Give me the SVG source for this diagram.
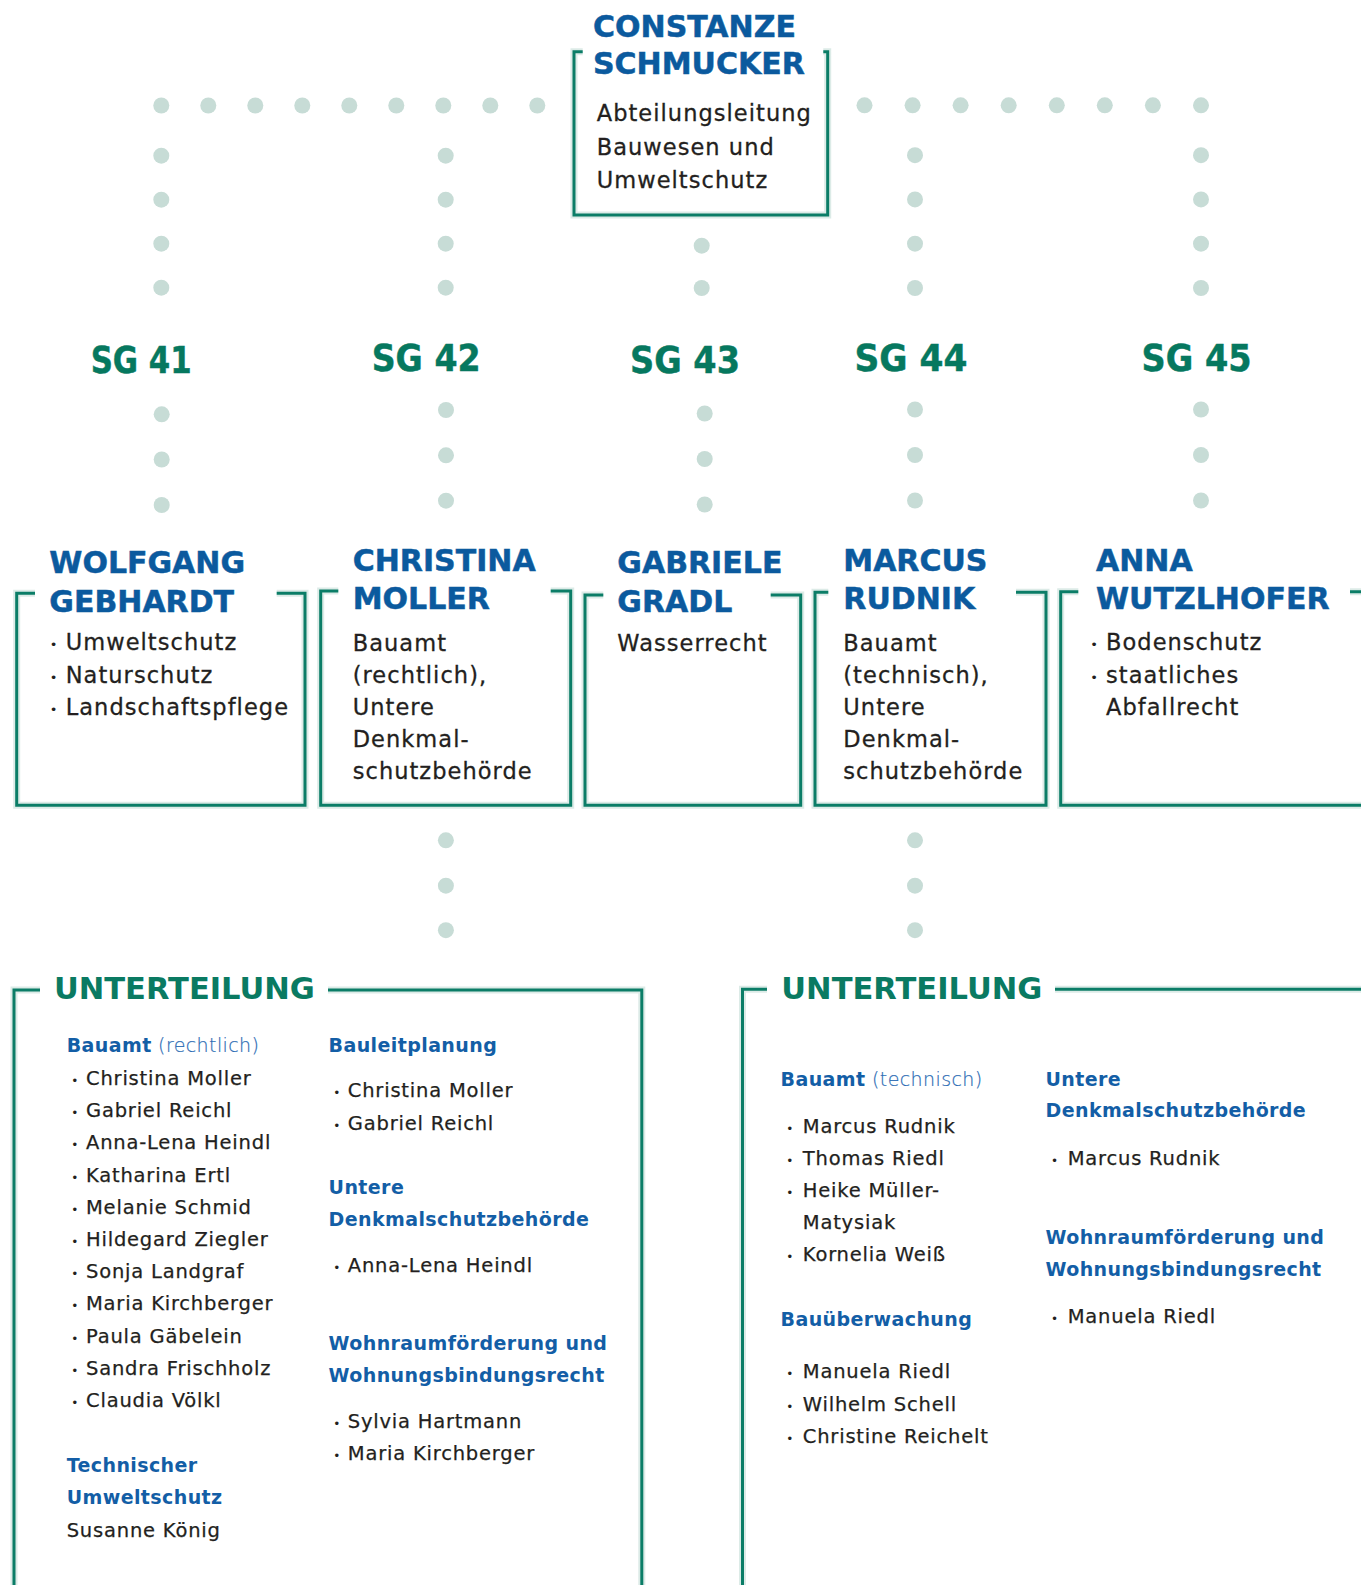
<svg xmlns="http://www.w3.org/2000/svg" width="1361" height="1585" viewBox="0 0 1361 1585">
<style>
.bg{fill:#ffffff}
.frame{fill:none;stroke:#0b7d67;stroke-width:3;stroke-linejoin:miter}
.halo{fill:none;stroke:#a8cdc2;stroke-width:7;opacity:0.4}
.dot{fill:#c7dcd6}
.name{font-family:"DejaVu Sans",sans-serif;font-weight:bold;font-size:30px;fill:#0b5a9e;stroke:#0b5a9e;stroke-width:0.5}
.sg{font-family:"DejaVu Sans",sans-serif;font-weight:bold;font-size:37px;fill:#06785f;stroke:#06785f;stroke-width:0.5}
.body{font-family:"DejaVu Sans",sans-serif;font-size:22.5px;letter-spacing:1.05px;fill:#231f20;stroke:#231f20;stroke-width:0.3}
.sub{font-family:"DejaVu Sans",sans-serif;font-size:19.5px;letter-spacing:0.8px;fill:#231f20;stroke:#231f20;stroke-width:0.25}
.h{font-family:"DejaVu Sans",sans-serif;font-weight:bold;font-size:19px;letter-spacing:0.4px;fill:#135ea6}
.lt{font-weight:200;fill:#2c6cb4;stroke:#2c6cb4;stroke-width:0.2}
.ut{font-family:"DejaVu Sans",sans-serif;font-weight:bold;font-size:30px;fill:#0a7a62}
.bul{font-family:"DejaVu Sans",sans-serif;font-size:13px;fill:#231f20;text-anchor:middle}
.buls{font-family:"DejaVu Sans",sans-serif;font-size:12px;fill:#231f20;text-anchor:middle}
</style>
<rect class="bg" x="0" y="0" width="1361" height="1585"/>

<g id="connectors">
  <g id="dots-top-left">
    <circle class="dot" cx="161.3" cy="105.5" r="8"/><circle class="dot" cx="208.3" cy="105.5" r="8"/><circle class="dot" cx="255.3" cy="105.5" r="8"/><circle class="dot" cx="302.3" cy="105.5" r="8"/><circle class="dot" cx="349.3" cy="105.5" r="8"/><circle class="dot" cx="396.3" cy="105.5" r="8"/><circle class="dot" cx="443.3" cy="105.5" r="8"/><circle class="dot" cx="490.3" cy="105.5" r="8"/><circle class="dot" cx="537.3" cy="105.5" r="8"/>
    <circle class="dot" cx="161.3" cy="155.7" r="8"/><circle class="dot" cx="161.3" cy="199.7" r="8"/><circle class="dot" cx="161.3" cy="243.7" r="8"/><circle class="dot" cx="161.3" cy="287.7" r="8"/>
    <circle class="dot" cx="445.7" cy="155.7" r="8"/><circle class="dot" cx="445.7" cy="199.7" r="8"/><circle class="dot" cx="445.7" cy="243.7" r="8"/><circle class="dot" cx="445.7" cy="287.7" r="8"/>
  </g>
  <g id="dots-top-right">
    <circle class="dot" cx="864.5" cy="105.3" r="8"/><circle class="dot" cx="912.6" cy="105.3" r="8"/><circle class="dot" cx="960.6" cy="105.3" r="8"/><circle class="dot" cx="1008.7" cy="105.3" r="8"/><circle class="dot" cx="1056.8" cy="105.3" r="8"/><circle class="dot" cx="1104.8" cy="105.3" r="8"/><circle class="dot" cx="1152.9" cy="105.3" r="8"/><circle class="dot" cx="1201" cy="105.3" r="8"/>
    <circle class="dot" cx="915" cy="155.2" r="8"/><circle class="dot" cx="915" cy="199.4" r="8"/><circle class="dot" cx="915" cy="243.7" r="8"/><circle class="dot" cx="915" cy="288" r="8"/>
    <circle class="dot" cx="1201" cy="155.2" r="8"/><circle class="dot" cx="1201" cy="199.4" r="8"/><circle class="dot" cx="1201" cy="243.7" r="8"/><circle class="dot" cx="1201" cy="288" r="8"/>
  </g>
  <g id="dots-center">
    <circle class="dot" cx="701.7" cy="245.7" r="8"/><circle class="dot" cx="701.7" cy="288" r="8"/>
  </g>
  <g id="dots-sg">
    <circle class="dot" cx="161.7" cy="414.3" r="8"/><circle class="dot" cx="161.7" cy="459.5" r="8"/><circle class="dot" cx="161.7" cy="505" r="8"/>
    <circle class="dot" cx="446" cy="410" r="8"/><circle class="dot" cx="446" cy="455.3" r="8"/><circle class="dot" cx="446" cy="500.7" r="8"/>
    <circle class="dot" cx="704.7" cy="413.5" r="8"/><circle class="dot" cx="704.7" cy="459" r="8"/><circle class="dot" cx="704.7" cy="504.5" r="8"/>
    <circle class="dot" cx="915" cy="409.5" r="8"/><circle class="dot" cx="915" cy="455" r="8"/><circle class="dot" cx="915" cy="500.5" r="8"/>
    <circle class="dot" cx="1201" cy="409.5" r="8"/><circle class="dot" cx="1201" cy="455" r="8"/><circle class="dot" cx="1201" cy="500.5" r="8"/>
  </g>
  <g id="dots-bottom">
    <circle class="dot" cx="445.9" cy="840.3" r="8"/><circle class="dot" cx="445.9" cy="885.7" r="8"/><circle class="dot" cx="445.9" cy="930.2" r="8"/>
    <circle class="dot" cx="915" cy="840.3" r="8"/><circle class="dot" cx="915" cy="885.7" r="8"/><circle class="dot" cx="915" cy="930.2" r="8"/>
  </g>
</g>

<g id="node-schmucker">
  <path class="halo" d="M582.7,51.7 H574 V215 H827.7 V51.7 H823.3"/>
  <path class="frame" d="M582.7,51.7 H574 V215 H827.7 V51.7 H823.3"/>
  <text class="name" x="593" y="37.3">CONSTANZE</text>
  <text class="name" x="593" y="74">SCHMUCKER</text>
  <text class="body" x="596.7" y="121">Abteilungsleitung</text>
  <text class="body" x="596.7" y="154.5">Bauwesen und</text>
  <text class="body" x="596.7" y="188">Umweltschutz</text>
</g>

<g id="sg-labels">
  <text id="sg41" class="sg" x="90.7" y="372.7" textLength="101" lengthAdjust="spacingAndGlyphs">SG 41</text>
  <text id="sg42" class="sg" x="371.7" y="370.7" textLength="109" lengthAdjust="spacingAndGlyphs">SG 42</text>
  <text id="sg43" class="sg" x="630" y="372.7" textLength="110" lengthAdjust="spacingAndGlyphs">SG 43</text>
  <text id="sg44" class="sg" x="854.4" y="370.7" textLength="113" lengthAdjust="spacingAndGlyphs">SG 44</text>
  <text id="sg45" class="sg" x="1141.6" y="370.7" textLength="110" lengthAdjust="spacingAndGlyphs">SG 45</text>
</g>

<g id="node-gebhardt">
  <path class="halo" d="M35,593.3 H16.7 V805.3 H305 V593.3 H276.7"/>
  <path class="frame" d="M35,593.3 H16.7 V805.3 H305 V593.3 H276.7"/>
  <text class="name" x="49.3" y="572.7">WOLFGANG</text>
  <text class="name" x="49.3" y="612">GEBHARDT</text>
  <text class="bul" x="53.5" y="649">•</text><text class="body" x="65.7" y="650">Umweltschutz</text>
  <text class="bul" x="53.5" y="681.5">•</text><text class="body" x="65.7" y="682.5">Naturschutz</text>
  <text class="bul" x="53.5" y="713.5">•</text><text class="body" x="65.7" y="714.5">Landschaftspflege</text>
</g>

<g id="node-moller">
  <path class="halo" d="M338.3,591 H320.7 V805.3 H570.7 V591 H550.7"/>
  <path class="frame" d="M338.3,591 H320.7 V805.3 H570.7 V591 H550.7"/>
  <text class="name" x="352.7" y="570.7">CHRISTINA</text>
  <text class="name" x="352.7" y="609.3">MOLLER</text>
  <text class="body" x="352.7" y="650.7">Bauamt</text>
  <text class="body" x="352.7" y="682.7">(rechtlich),</text>
  <text class="body" x="352.7" y="714.7">Untere</text>
  <text class="body" x="352.7" y="746.7">Denkmal-</text>
  <text class="body" x="352.7" y="778.7">schutzbehörde</text>
</g>

<g id="node-gradl">
  <path class="halo" d="M603.3,595 H585 V805.3 H800.7 V595 H770.7"/>
  <path class="frame" d="M603.3,595 H585 V805.3 H800.7 V595 H770.7"/>
  <text class="name" x="617.3" y="573.3">GABRIELE</text>
  <text class="name" x="617.3" y="611.7">GRADL</text>
  <text class="body" x="617.3" y="650.7">Wasserrecht</text>
</g>

<g id="node-rudnik">
  <path class="halo" d="M828.3,592.3 H815 V805.3 H1046 V592.3 H1016"/>
  <path class="frame" d="M828.3,592.3 H815 V805.3 H1046 V592.3 H1016"/>
  <text class="name" x="843.3" y="570.7">MARCUS</text>
  <text class="name" x="843.3" y="609.3">RUDNIK</text>
  <text class="body" x="843.3" y="650.7">Bauamt</text>
  <text class="body" x="843.3" y="682.7">(technisch),</text>
  <text class="body" x="843.3" y="714.7">Untere</text>
  <text class="body" x="843.3" y="746.7">Denkmal-</text>
  <text class="body" x="843.3" y="778.7">schutzbehörde</text>
</g>

<g id="node-wutzlhofer">
  <path class="halo" d="M1078.3,591.7 H1060.7 V805.3 H1366 M1350,591.7 H1366"/>
  <path class="frame" d="M1078.3,591.7 H1060.7 V805.3 H1366 M1350,591.7 H1366"/>
  <text class="name" x="1096" y="570.7">ANNA</text>
  <text class="name" x="1096" y="609.3">WUTZLHOFER</text>
  <text class="bul" x="1094" y="649">•</text><text class="body" x="1106" y="650">Bodenschutz</text>
  <text class="bul" x="1094" y="681.5">•</text><text class="body" x="1106" y="682.5">staatliches</text>
  <text class="body" x="1106" y="714.5">Abfallrecht</text>
</g>

<g id="node-unterteilung-sg42">
  <path class="halo" d="M40,990 H14 V1590 M328,990 H641.8 V1590"/>
  <path class="frame" d="M40,990 H14 V1590 M328,990 H641.8 V1590"/>
  <text class="ut" x="53.9" y="999.3" textLength="261" lengthAdjust="spacingAndGlyphs">UNTERTEILUNG</text>

  <text class="h" x="66.7" y="1051.7">Bauamt<tspan class="lt"> (rechtlich)</tspan></text>
  <text class="buls" x="74.8" y="1085">•</text><text class="sub" x="86" y="1085">Christina Moller</text>
  <text class="buls" x="74.8" y="1117.2">•</text><text class="sub" x="86" y="1117.2">Gabriel Reichl</text>
  <text class="buls" x="74.8" y="1149.4">•</text><text class="sub" x="86" y="1149.4">Anna-Lena Heindl</text>
  <text class="buls" x="74.8" y="1181.6">•</text><text class="sub" x="86" y="1181.6">Katharina Ertl</text>
  <text class="buls" x="74.8" y="1213.8">•</text><text class="sub" x="86" y="1213.8">Melanie Schmid</text>
  <text class="buls" x="74.8" y="1246">•</text><text class="sub" x="86" y="1246">Hildegard Ziegler</text>
  <text class="buls" x="74.8" y="1278.2">•</text><text class="sub" x="86" y="1278.2">Sonja Landgraf</text>
  <text class="buls" x="74.8" y="1310.4">•</text><text class="sub" x="86" y="1310.4">Maria Kirchberger</text>
  <text class="buls" x="74.8" y="1342.6">•</text><text class="sub" x="86" y="1342.6">Paula Gäbelein</text>
  <text class="buls" x="74.8" y="1374.8">•</text><text class="sub" x="86" y="1374.8">Sandra Frischholz</text>
  <text class="buls" x="74.8" y="1407">•</text><text class="sub" x="86" y="1407">Claudia Völkl</text>
  <text class="h" x="66.7" y="1471.7">Technischer</text>
  <text class="h" x="66.7" y="1504">Umweltschutz</text>
  <text class="sub" x="66.7" y="1536.7">Susanne König</text>

  <text class="h" x="328.6" y="1051.7">Bauleitplanung</text>
  <text class="buls" x="336.7" y="1097">•</text><text class="sub" x="347.8" y="1097">Christina Moller</text>
  <text class="buls" x="336.7" y="1130">•</text><text class="sub" x="347.8" y="1130">Gabriel Reichl</text>
  <text class="h" x="328.6" y="1194">Untere</text>
  <text class="h" x="328.6" y="1226">Denkmalschutzbehörde</text>
  <text class="buls" x="336.7" y="1272">•</text><text class="sub" x="347.8" y="1272">Anna-Lena Heindl</text>
  <text class="h" x="328.6" y="1350">Wohnraumförderung und</text>
  <text class="h" x="328.6" y="1382">Wohnungsbindungsrecht</text>
  <text class="buls" x="336.7" y="1428.3">•</text><text class="sub" x="347.8" y="1428.3">Sylvia Hartmann</text>
  <text class="buls" x="336.7" y="1460">•</text><text class="sub" x="347.8" y="1460">Maria Kirchberger</text>
</g>

<g id="node-unterteilung-sg44">
  <path class="halo" d="M767,989.3 H742.5 V1590 M1055,989.3 H1366"/>
  <path class="frame" d="M767,989.3 H742.5 V1590 M1055,989.3 H1366"/>
  <text class="ut" x="781.3" y="999" textLength="261" lengthAdjust="spacingAndGlyphs">UNTERTEILUNG</text>

  <text class="h" x="780.6" y="1086">Bauamt<tspan class="lt"> (technisch)</tspan></text>
  <text class="buls" x="789.7" y="1132.5">•</text><text class="sub" x="802.8" y="1132.5">Marcus Rudnik</text>
  <text class="buls" x="789.7" y="1164.7">•</text><text class="sub" x="802.8" y="1164.7">Thomas Riedl</text>
  <text class="buls" x="789.7" y="1197">•</text><text class="sub" x="802.8" y="1197">Heike Müller-</text>
  <text class="sub" x="802.8" y="1228.5">Matysiak</text>
  <text class="buls" x="789.7" y="1261">•</text><text class="sub" x="802.8" y="1261">Kornelia Weiß</text>
  <text class="h" x="780.6" y="1325.5">Bauüberwachung</text>
  <text class="buls" x="789.7" y="1378">•</text><text class="sub" x="802.8" y="1378">Manuela Riedl</text>
  <text class="buls" x="789.7" y="1410.5">•</text><text class="sub" x="802.8" y="1410.5">Wilhelm Schell</text>
  <text class="buls" x="789.7" y="1443">•</text><text class="sub" x="802.8" y="1443">Christine Reichelt</text>

  <text class="h" x="1045.5" y="1086">Untere</text>
  <text class="h" x="1045.5" y="1117.3">Denkmalschutzbehörde</text>
  <text class="buls" x="1054.6" y="1164.7">•</text><text class="sub" x="1067.7" y="1164.7">Marcus Rudnik</text>
  <text class="h" x="1045.5" y="1243.7">Wohnraumförderung und</text>
  <text class="h" x="1045.5" y="1276">Wohnungsbindungsrecht</text>
  <text class="buls" x="1054.6" y="1322.5">•</text><text class="sub" x="1067.7" y="1322.5">Manuela Riedl</text>
</g>
</svg>
